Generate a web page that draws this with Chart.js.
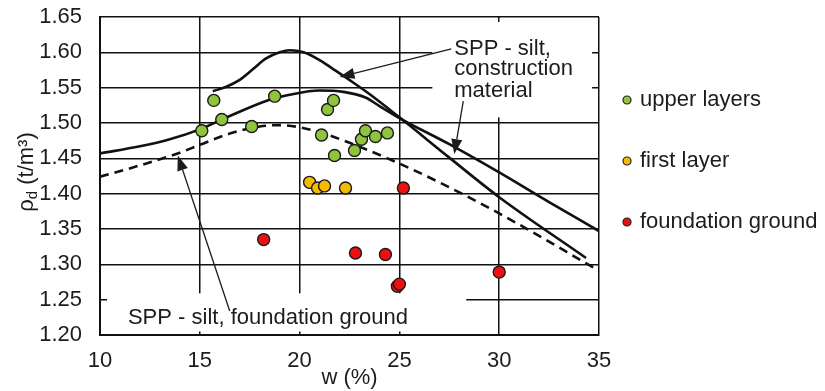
<!DOCTYPE html>
<html>
<head>
<meta charset="utf-8">
<script src="https://cdn.jsdelivr.net/npm/chart.js@4"></script>
<style>
  body { margin: 0; background: #fff; }
</style>
</head>
<body>
<canvas id="myChart" width="825" height="391"></canvas>
<script>
// measured points, w (%) and dry density (t/m3)
var upperW   = [15.1, 15.7, 16.1, 17.6, 18.75, 21.1, 21.4, 21.7, 21.75, 22.75, 23.1, 23.3, 23.8, 24.4];
var upperRho = [1.489, 1.532, 1.505, 1.495, 1.538, 1.483, 1.519, 1.532, 1.454, 1.461, 1.477, 1.489, 1.481, 1.486];

var firstW   = [20.5, 20.9, 21.25, 22.3];
var firstRho = [1.416, 1.408, 1.411, 1.408];

var foundW   = [18.2, 22.8, 24.3, 24.9, 25.0, 25.2, 30.0];
var foundRho = [1.335, 1.316, 1.314, 1.269, 1.272, 1.408, 1.289];

// Proctor curves
var peakW   = [15.65, 16.3, 17.0, 17.7, 18.3, 19.0, 19.5, 20.2, 21.0, 21.7, 22.7, 23.5, 25.0, 27.5, 30.0, 34.35];
var peakRho = [1.545, 1.551, 1.561, 1.577, 1.591, 1.600, 1.603, 1.600, 1.589, 1.576, 1.557, 1.541, 1.508, 1.451, 1.395, 1.309];

var broadW   = [10, 12, 13.5, 15, 16.5, 18.5, 19.5, 21, 22.2, 23.3, 24, 25, 27.5, 30, 32.5, 35];
var broadRho = [1.457, 1.467, 1.477, 1.491, 1.510, 1.533, 1.540, 1.546, 1.544, 1.536, 1.524, 1.507, 1.470, 1.430, 1.388, 1.347];

var groundW   = [10, 12, 14, 15, 16.5, 18, 19, 20, 21, 22.5, 24.65, 27, 30, 35];
var groundRho = [1.424, 1.440, 1.458, 1.469, 1.485, 1.495, 1.497, 1.494, 1.487, 1.472, 1.447, 1.416, 1.372, 1.291];

var seriesNames = ["upper layers", "first layer", "foundation ground"];
var xTicks = [10, 15, 20, 25, 30, 35];
var yTicks = [1.20, 1.25, 1.30, 1.35, 1.40, 1.45, 1.50, 1.55, 1.60, 1.65];

function pts(xs, ys) {
  return xs.map(function (x, i) { return {x: x, y: ys[i]}; });
}

var FONT = "'Liberation Sans', Arial, sans-serif";
var INK = "#1c1c1c";
var FS = 22;

// white label boxes (in data units) that hide the grid behind the notes
var boxes = [
  [26.65, 34.65, 1.643, 1.508],
  [10.35, 28.35, 1.259, 1.205]
];
var notes = [
  ["SPP - silt,", 27.75, 1.605],
  ["construction", 27.75, 1.576],
  ["material", 27.75, 1.545],
  ["SPP - silt, foundation ground", 11.4, 1.224]
];
var arrows = [
  [27.6, 1.605, 22.0, 1.565],
  [28.2, 1.531, 27.75, 1.456],
  [16.5, 1.234, 13.9, 1.454]
];

var notesPlugin = {
  id: "notes",
  beforeDatasetsDraw: function (chart) {
    var ctx = chart.ctx, sx = chart.scales.x, sy = chart.scales.y;
    ctx.save();
    ctx.fillStyle = "#fff";
    boxes.forEach(function (b) {
      var x1 = sx.getPixelForValue(b[0]), x2 = sx.getPixelForValue(b[1]);
      var y1 = sy.getPixelForValue(b[2]), y2 = sy.getPixelForValue(b[3]);
      ctx.fillRect(x1, y1, x2 - x1, y2 - y1);
    });
    ctx.restore();
  },
  afterDatasetsDraw: function (chart) {
    var ctx = chart.ctx, sx = chart.scales.x, sy = chart.scales.y;
    ctx.save();
    ctx.fillStyle = INK;
    ctx.font = FS + "px " + FONT;
    ctx.textAlign = "left";
    ctx.textBaseline = "middle";
    notes.forEach(function (n) {
      ctx.fillText(n[0], sx.getPixelForValue(n[1]), sy.getPixelForValue(n[2]));
    });
    ctx.strokeStyle = INK;
    ctx.lineWidth = 1.3;
    arrows.forEach(function (a) {
      var x1 = sx.getPixelForValue(a[0]), y1 = sy.getPixelForValue(a[1]);
      var x2 = sx.getPixelForValue(a[2]), y2 = sy.getPixelForValue(a[3]);
      var ang = Math.atan2(y2 - y1, x2 - x1);
      var len = 15, half = 5.5;
      var bx = x2 - len * Math.cos(ang), by = y2 - len * Math.sin(ang);
      ctx.beginPath();
      ctx.moveTo(x1, y1);
      ctx.lineTo(bx, by);
      ctx.stroke();
      ctx.beginPath();
      ctx.moveTo(x2, y2);
      ctx.lineTo(bx + half * Math.sin(ang), by - half * Math.cos(ang));
      ctx.lineTo(bx - half * Math.sin(ang), by + half * Math.cos(ang));
      ctx.closePath();
      ctx.fill();
    });
    ctx.restore();
  },
  afterDraw: function (chart) {
    var ctx = chart.ctx;
    ctx.save();
    // legend
    var ly = [100, 161, 222];
    ctx.font = FS + "px " + FONT;
    ctx.textBaseline = "middle";
    ctx.textAlign = "left";
    for (var i = 0; i < 3; i++) {
      var ds = chart.data.datasets[i];
      ctx.beginPath();
      ctx.arc(627, ly[i], 4, 0, Math.PI * 2);
      ctx.fillStyle = ds.backgroundColor;
      ctx.fill();
      ctx.lineWidth = 1.2;
      ctx.strokeStyle = "#222";
      ctx.stroke();
      ctx.fillStyle = INK;
      ctx.fillText(ds.label, 640, ly[i]);
    }
    // y axis title with subscript
    ctx.translate(26, 172);
    ctx.rotate(-Math.PI / 2);
    var big = FS + "px " + FONT, small = "15px " + FONT;
    ctx.font = big;
    var w1 = ctx.measureText("\u03c1").width;
    var w3 = ctx.measureText(" (t/m\u00b3)").width;
    ctx.font = small;
    var w2 = ctx.measureText("d").width;
    var x0 = -(w1 + w2 + w3) / 2;
    ctx.textBaseline = "alphabetic";
    ctx.fillStyle = INK;
    ctx.font = big;
    ctx.fillText("\u03c1", x0, 7);
    ctx.font = small;
    ctx.fillText("d", x0 + w1, 11);
    ctx.font = big;
    ctx.fillText(" (t/m\u00b3)", x0 + w1 + w2, 7);
    ctx.restore();
  }
};

function curve(xs, ys, dashed) {
  return {
    data: pts(xs, ys),
    showLine: true,
    borderColor: "#111",
    borderWidth: 2.6,
    borderDash: dashed ? [9, 6] : [],
    pointRadius: 0,
    fill: false,
    cubicInterpolationMode: "monotone"
  };
}

function dots(label, xs, ys, color) {
  return {
    label: label,
    data: pts(xs, ys),
    showLine: false,
    backgroundColor: color,
    borderColor: "#1a1a1a",
    borderWidth: 1.4,
    pointRadius: 6
  };
}

new Chart("myChart", {
  type: "scatter",
  data: {
    datasets: [
      dots(seriesNames[0], upperW, upperRho, "#8fc43c"),
      dots(seriesNames[1], firstW, firstRho, "#f5bb00"),
      dots(seriesNames[2], foundW, foundRho, "#ee1010"),
      curve(peakW, peakRho, false),
      curve(broadW, broadRho, false),
      curve(groundW, groundRho, true)
    ]
  },
  options: {
    responsive: false,
    animation: false,
    layout: {padding: {left: 0, top: 17, right: 226, bottom: 0}},
    plugins: {
      legend: {display: false},
      tooltip: {enabled: false}
    },
    scales: {
      x: {
        type: "linear",
        min: 10,
        max: 35,
        afterFit: function (s) { s.height = 56; },
        afterBuildTicks: function (s) { s.ticks = xTicks.map(function (v) { return {value: v}; }); },
        grid: {color: "#111", lineWidth: 1.5, drawTicks: false},
        border: {color: "#111", width: 2},
        ticks: {color: INK, font: {family: FONT, size: FS}, padding: 13},
        title: {display: true, text: "w (%)", color: INK, font: {family: FONT, size: FS}, padding: {top: 0, bottom: 0}}
      },
      y: {
        min: 1.2,
        max: 1.65,
        afterFit: function (s) { s.width = 100; s.paddingTop = 0; s.paddingBottom = 0; },
        afterBuildTicks: function (s) { s.ticks = yTicks.map(function (v) { return {value: v}; }); },
        grid: {color: "#111", lineWidth: 1.5, drawTicks: false},
        border: {color: "#111", width: 2},
        ticks: {
          color: INK,
          font: {family: FONT, size: FS},
          padding: 18,
          callback: function (v) { return v.toFixed(2); }
        }
      }
    }
  },
  plugins: [notesPlugin]
});
</script>
</body>
</html>
